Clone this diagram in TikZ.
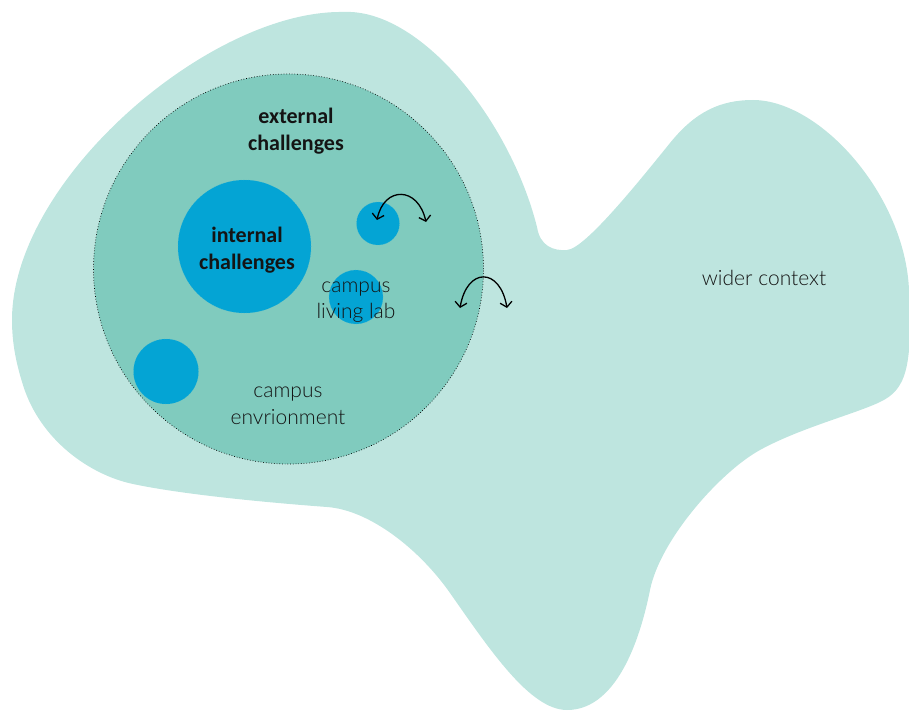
\documentclass[tikz,border=0pt]{standalone}
\usepackage{fontspec}
\setmainfont{Carlito}
\newfontfamily\lightfont{Lato Light}
\usetikzlibrary{arrows.meta}
\definecolor{context}{RGB}{190,229,223}
\definecolor{campus}{RGB}{128,203,190}
\definecolor{lab}{RGB}{4,164,212}
\definecolor{ink}{RGB}{20,20,20}
\tikzset{
  blob/.style={fill=context, draw=none},
  envcircle/.style={circle, fill=campus, draw=black, dotted, line width=0.7pt, inner sep=0pt},
  labcircle/.style={circle, fill=lab, draw=lab!85!white, dotted, line width=0.5pt, inner sep=0pt},
  boldlabel/.style={align=center, text=ink, font=\bfseries\fontsize{22}{27}\selectfont},
  plainlabel/.style={align=center, text=ink, font=\lightfont\fontsize{21}{26.5}\selectfont},
  swap/.style={{Straight Barb[length=5pt,width=12pt]}-{Straight Barb[length=5pt,width=12pt]}, line width=1.3pt, black}
}
\begin{document}
\begin{tikzpicture}[x=1pt, y=-1pt]
\useasboundingbox (0,0) rectangle (909,711);
\begin{scope}
\clip (0,0) rectangle (909,711);
% wider context
\fill[blob] (12,320)
  .. controls (12,180) and (210,10) .. (343,12)
  .. controls (420,8) and (510,120) .. (537,227)
  .. controls (540,246) and (553,251) .. (567,250)
  .. controls (585,249) and (640,180) .. (670,143)
  .. controls (695,112) and (720,100) .. (753,100)
  .. controls (820,100) and (905,195) .. (909,290)
  .. controls (913,370) and (905,390) .. (880,402)
  .. controls (855,414) and (800,428) .. (760,450)
  .. controls (720,472) and (660,540) .. (650,590)
  .. controls (642,630) and (620,710) .. (567,710)
  .. controls (530,710) and (490,650) .. (450,593)
  .. controls (420,550) and (370,510) .. (327,507)
  .. controls (260,502) and (180,494) .. (133,484)
  .. controls (90,475) and (40,440) .. (23,385)
  .. controls (15,360) and (12,340) .. cycle;
\end{scope}
% campus environment
\node[envcircle, minimum size=390pt] (env) at (288.5,269) {};
% living labs
\node[labcircle, minimum size=133pt] (internal) at (244.5,246.5) {};
\node[labcircle, minimum size=43pt] (labA) at (378,223.5) {};
\node[labcircle, minimum size=54pt] (labB) at (356,297) {};
\node[labcircle, minimum size=65pt] (labC) at (166,371.5) {};
% labels
\node[boldlabel] (extT) at (296,131) {external\\challenges};
\node[boldlabel] (intT) at (247,250) {internal\\challenges};
\node[plainlabel] (labT) at (356,302) {campus\\living lab};
\node[plainlabel] (envT) at (288,406) {campus\\envrionment};
\node[plainlabel, anchor=base] (widerT) at (764,285) {wider context};
% exchange arrows
\coordinate (a1) at (377,220);
\coordinate (a2) at (426,222);
\coordinate (b1) at (460,308);
\coordinate (b2) at (507,308);
\draw[swap] (a1) .. controls (384,186) and (418,186) .. (a2);
\draw[swap] (b1) .. controls (467,267) and (500,267) .. (b2);
\end{tikzpicture}
\end{document}
